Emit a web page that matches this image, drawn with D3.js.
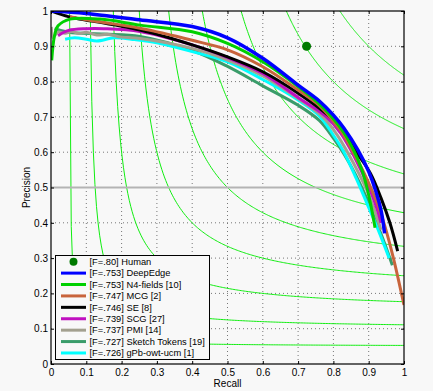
<!DOCTYPE html>
<html lang="en"><head>
<meta charset="utf-8">
<title>precision recall</title>
<script src="https://d3js.org/d3.v7.min.js"></script>
<style>
  body { margin: 0; background: #f8f8f8; }
  text { font-family: "Liberation Sans", Arial, sans-serif; }
</style>
</head>
<body>
<svg width="433" height="391"></svg>
<script>
// ---- data (recall, precision) ----
var ticks = [0, 0.1, 0.2, 0.3, 0.4, 0.5, 0.6, 0.7, 0.8, 0.9, 1];
var isoF = [0.1, 0.2, 0.3, 0.4, 0.5, 0.6, 0.7, 0.8, 0.9];
var human = [0.724, 0.9];

var deepEdge = [[0,1.0],[0.1,0.993],[0.25,0.975],[0.4,0.956],[0.5,0.924],[0.6,0.866],[0.7,0.79],[0.76,0.745],[0.8,0.705],[0.83,0.668],[0.87,0.605],[0.9,0.545],[0.92,0.49],[0.935,0.435],[0.945,0.37]];
var n4Fields = [[0.002,0.86],[0.01,0.93],[0.02,0.958],[0.054,0.977],[0.14,0.977],[0.252,0.96],[0.4,0.941],[0.5,0.908],[0.6,0.856],[0.7,0.786],[0.76,0.737],[0.8,0.695],[0.83,0.655],[0.86,0.6],[0.88,0.552],[0.895,0.5],[0.907,0.445],[0.918,0.386]];
var mcg = [[0.054,0.984],[0.1,0.975],[0.252,0.951],[0.4,0.917],[0.5,0.89],[0.6,0.842],[0.7,0.776],[0.753,0.738],[0.79,0.7],[0.825,0.655],[0.856,0.6],[0.885,0.545],[0.91,0.49],[0.93,0.44],[0.946,0.39],[0.97,0.3],[1.0,0.167]];
var se = [[0,1.0],[0.049,0.984],[0.073,0.979],[0.252,0.946],[0.4,0.904],[0.5,0.87],[0.6,0.828],[0.7,0.767],[0.79,0.7],[0.83,0.655],[0.865,0.6],[0.905,0.54],[0.935,0.47],[0.96,0.4],[0.982,0.32]];
var scg = [[0.02,0.93],[0.05,0.945],[0.1,0.95],[0.15,0.95],[0.252,0.942],[0.4,0.904],[0.5,0.868],[0.6,0.823],[0.7,0.755],[0.78,0.7],[0.82,0.655],[0.85,0.605],[0.88,0.545],[0.905,0.49],[0.925,0.435],[0.935,0.4]];
var pmi = [[0.001,0.955],[0.005,0.925],[0.01,0.93],[0.02,0.94],[0.04,0.937],[0.06,0.942],[0.08,0.936],[0.1,0.94],[0.13,0.932],[0.16,0.934],[0.2,0.926],[0.252,0.922],[0.4,0.894],[0.5,0.861],[0.6,0.816],[0.7,0.752],[0.77,0.7],[0.81,0.65],[0.84,0.6],[0.872,0.54],[0.9,0.48],[0.92,0.425],[0.935,0.38]];
var sketchTokens = [[0.01,0.95],[0.05,0.94],[0.15,0.935],[0.252,0.928],[0.4,0.888],[0.5,0.843],[0.6,0.788],[0.7,0.733],[0.76,0.69],[0.8,0.64],[0.83,0.595],[0.862,0.538],[0.892,0.475],[0.918,0.41],[0.942,0.35],[0.967,0.28]];
var gpb = [[0.04,0.92],[0.067,0.924],[0.1,0.92],[0.13,0.915],[0.18,0.924],[0.237,0.919],[0.3,0.91],[0.4,0.885],[0.5,0.856],[0.6,0.806],[0.7,0.748],[0.76,0.703],[0.8,0.648],[0.83,0.6],[0.865,0.525],[0.895,0.455],[0.925,0.385],[0.958,0.3]];

var names = ["DeepEdge", "N4-fields [10]", "MCG [2]", "SE [8]", "SCG [27]", "PMI [14]", "Sketch Tokens [19]", "gPb-owt-ucm [1]"];
var fScores = [".753", ".753", ".747", ".746", ".739", ".737", ".727", ".726"];
var colors = ["#0000ff", "#00d000", "#c8643c", "#000000", "#c010c0", "#a3a08f", "#3a9c6a", "#00ffff"];
var curves = [deepEdge, n4Fields, mcg, se, scg, pmi, sketchTokens, gpb];
// order the curves are painted in (first = bottom)
var drawOrder = [6, 7, 5, 4, 3, 2, 1, 0];

var svg = d3.select("svg");

var x = d3.scaleLinear().domain([0, 1]).range([51, 404]);
var y = d3.scaleLinear().domain([0, 1]).range([364, 11]);

svg.append("defs").append("clipPath").attr("id", "plot")
  .append("rect").attr("x", 51).attr("y", 11).attr("width", 353).attr("height", 353);

// grid
var inner = ticks.slice(1, -1);
svg.append("g").selectAll("line").data(inner).enter().append("line")
  .attr("x1", function(d){ return x(d); }).attr("x2", function(d){ return x(d); })
  .attr("y1", y(0)).attr("y2", y(1))
  .attr("stroke", "#777").attr("stroke-dasharray", "1,3");
svg.append("g").selectAll("line").data(inner).enter().append("line")
  .attr("y1", function(d){ return y(d); }).attr("y2", function(d){ return y(d); })
  .attr("x1", x(0)).attr("x2", x(1))
  .attr("stroke", "#777").attr("stroke-dasharray", "1,3");

var plot = svg.append("g").attr("clip-path", "url(#plot)");

// iso-F contours
var isoLine = d3.line().x(function(d){ return x(d[0]); }).y(function(d){ return y(d[1]); });
isoF.forEach(function(f) {
  var r0 = f / (2 - f), pts = [];
  for (var i = 0; i <= 200; i++) {
    var r = r0 + (1 - r0) * i / 200;
    pts.push([r, f * r / (2 * r - f)]);
  }
  plot.append("path").attr("d", isoLine(pts))
    .attr("fill", "none").attr("stroke", "#10ee10").attr("stroke-width", 1);
});

// 0.5 reference line
plot.append("line").attr("x1", x(0)).attr("x2", x(1)).attr("y1", y(0.5)).attr("y2", y(0.5))
  .attr("stroke", "#b4b4b4").attr("stroke-width", 2);

// PR curves
var line = d3.line().x(function(d){ return x(d[0]); }).y(function(d){ return y(d[1]); })
  .curve(d3.curveCatmullRom.alpha(0.5));
drawOrder.forEach(function(k) {
  plot.append("path").attr("d", line(curves[k]))
    .attr("fill", "none").attr("stroke", colors[k])
    .attr("stroke-width", k == 0 ? 3.5 : 3).attr("stroke-linejoin", "round");
});

plot.append("circle").attr("cx", x(human[0])).attr("cy", y(human[1])).attr("r", 4.5)
  .attr("fill", "#007a00");

// axes
var fmt = function(d){ return String(+d.toFixed(1)); };
svg.append("g").attr("transform", "translate(0,364)")
  .call(d3.axisBottom(x).tickValues(ticks).tickFormat(fmt).tickSizeInner(-3).tickSizeOuter(0).tickPadding(5));
svg.append("g").attr("transform", "translate(51,0)")
  .call(d3.axisLeft(y).tickValues(ticks).tickFormat(fmt).tickSizeInner(-3).tickSizeOuter(0).tickPadding(3));
svg.append("g").attr("transform", "translate(0,11)")
  .call(d3.axisTop(x).tickValues(ticks).tickFormat("").tickSizeInner(-3).tickSizeOuter(0));
svg.append("g").attr("transform", "translate(404,0)")
  .call(d3.axisRight(y).tickValues(ticks).tickFormat("").tickSizeInner(-3).tickSizeOuter(0));
svg.selectAll(".domain").remove();
svg.selectAll(".tick text").attr("font-size", 10).attr("fill", "#000")
  .style("font-family", "'Liberation Sans', Arial, sans-serif");

svg.append("rect").attr("x", 51).attr("y", 11).attr("width", 353).attr("height", 353)
  .attr("fill", "none").attr("stroke", "#000").attr("stroke-width", 1.2);

svg.append("text").attr("x", 227.5).attr("y", 387).attr("text-anchor", "middle")
  .attr("font-size", 10).text("Recall");
svg.append("text").attr("transform", "translate(30,187.5) rotate(-90)").attr("text-anchor", "middle")
  .attr("font-size", 10).text("Precision");

// legend
var lg = svg.append("g");
lg.append("rect").attr("x", 55.5).attr("y", 255.5).attr("width", 154).attr("height", 104)
  .attr("fill", "#f8f8f8").attr("stroke", "#000").attr("stroke-width", 1);
var rowY = function(i){ return 261.7 + i * 11.41; };
lg.append("circle").attr("cx", 73.5).attr("cy", rowY(0)).attr("r", 4).attr("fill", "#007a00");
lg.append("text").attr("x", 89.5).attr("y", rowY(0)).attr("dy", "0.35em")
  .attr("font-size", 9.3).text("[F=.80] Human");
names.forEach(function(n, i) {
  lg.append("line").attr("x1", 61).attr("x2", 86).attr("y1", rowY(i + 1)).attr("y2", rowY(i + 1))
    .attr("stroke", colors[i]).attr("stroke-width", 3);
  lg.append("text").attr("x", 89.5).attr("y", rowY(i + 1)).attr("dy", "0.35em")
    .attr("font-size", 9.3).text("[F=" + fScores[i] + "] " + n);
});
</script>
</body>
</html>
